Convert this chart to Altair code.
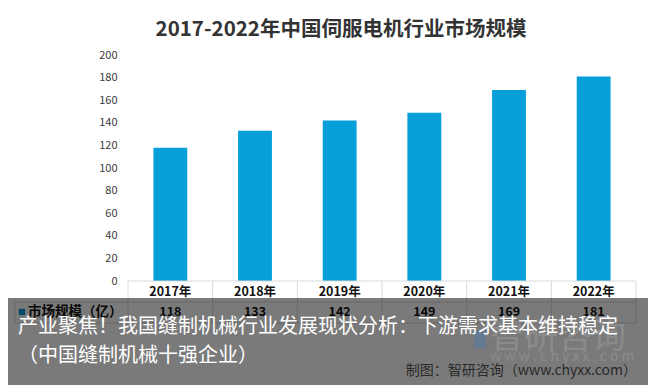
import altair as alt
import pandas as pd

years = ["2017年", "2018年", "2019年", "2020年", "2021年", "2022年"]
values = [118, 133, 142, 149, 169, 181]
title_text = "2017-2022年中国伺服电机行业市场规模"
series_name = "市场规模（亿）"
caption1 = "产业聚焦！我国缝制机械行业发展现状分析：下游需求基本维持稳定"
caption2 = "（中国缝制机械十强企业）"
source_text = "制图：智研咨询（www.chyxx.com）"
wm_text = "智研咨询"
wm_url = "w w w . c h y x x . c o m"

W, H = 508, 226
PL, PT = 120, 47
OX, OY = 8 + PL, 8 + PT  # page offset of plot origin
FONT = "Noto Sans CJK SC"
BLUE = "#079fd9"

df = pd.DataFrame({"year": years, "value": values})

xscale = alt.Scale(domain=years, paddingInner=0.6, paddingOuter=0.3)

bars = alt.Chart(df).mark_bar(color=BLUE).encode(
    x=alt.X("year:N", scale=xscale, axis=None, sort=years),
    y=alt.Y("value:Q", scale=alt.Scale(domain=[0, 200]),
            axis=alt.Axis(values=list(range(0, 201, 20)), domain=False, ticks=False,
                          grid=False, labelPadding=11, labelFontSize=11,
                          labelColor="#3a3a3a", labelFont=FONT, title=None)),
)

def py(page_y):
    return page_y - OY

def px(page_x):
    return page_x - OX

year_text = alt.Chart(df).mark_text(fontWeight="bold", fontSize=12.5, font=FONT,
                                    color="#111", baseline="middle").encode(
    x=alt.X("year:N", scale=xscale, axis=None, sort=years),
    y=alt.value(py(292)),
    text="year:N",
)
val_text = alt.Chart(df).mark_text(fontWeight="bold", fontSize=12.5, font=FONT,
                                   color="#111", baseline="middle").encode(
    x=alt.X("year:N", scale=xscale, axis=None, sort=years),
    y=alt.value(py(312)),
    text="value:Q",
)

# table grid
bounds = pd.DataFrame({"k": list(range(len(years) + 1))})
vlines = alt.Chart(bounds).mark_rule(color="#d9d9d9", strokeWidth=1).encode(
    x=alt.X("k:Q", scale=alt.Scale(domain=[0, len(years)]), axis=None),
    y=alt.value(py(281)),
    y2=alt.value(py(323)),
)
hl = pd.DataFrame({"y0": [py(281), py(302), py(323)], "x0": [0, px(15), px(15)]})
hlines = alt.Chart(hl).mark_rule(color="#d9d9d9", strokeWidth=1).encode(
    y=alt.Y("y0:Q", scale=None),
    x=alt.X("x0:Q", scale=None),
    x2=alt.value(W),
)
leftv = alt.Chart(pd.DataFrame({"a": [0]})).mark_rule(color="#d9d9d9").encode(
    x=alt.value(px(15)), y=alt.value(py(302)), y2=alt.value(py(323)))

legend_sq = alt.Chart(pd.DataFrame({"a": [0]})).mark_square(color=BLUE, size=40, opacity=1).encode(
    x=alt.value(px(22)), y=alt.value(py(312)))
legend_txt = alt.Chart(pd.DataFrame({"t": [series_name]})).mark_text(
    fontWeight="bold", fontSize=13.5, font=FONT, color="#111", align="left", baseline="middle").encode(
    x=alt.value(px(28)), y=alt.value(py(312)), text="t:N")

title = alt.Chart(pd.DataFrame({"t": [title_text]})).mark_text(
    fontWeight="bold", fontSize=20.5, font=FONT, color="#333", align="center", baseline="middle").encode(
    x=alt.value(px(341)), y=alt.value(py(30)), text="t:N")

overlay = alt.Chart(pd.DataFrame({"a": [0]})).mark_rect(color="#000", opacity=0.52).encode(
    x=alt.value(-OX), x2=alt.value(656 - OX), y=alt.value(py(298)), y2=alt.value(py(390)))

wm = alt.Chart(pd.DataFrame({"t": [wm_text]})).mark_text(
    fontSize=34, font=FONT, color="#ffffff", opacity=0.13, align="left", baseline="middle").encode(
    x=alt.value(px(490)), y=alt.value(py(338)), text="t:N")
wm_logo = alt.Chart(pd.DataFrame({"a": [0]})).mark_rect(color="#3a7bbf", opacity=0.35).encode(
    x=alt.value(px(474)), x2=alt.value(px(486)), y=alt.value(py(330)), y2=alt.value(py(348)))
wm2 = alt.Chart(pd.DataFrame({"t": [wm_url]})).mark_text(
    fontSize=14, font=FONT, color="#ffffff", opacity=0.13, align="left", baseline="middle").encode(
    x=alt.value(px(490)), y=alt.value(py(357)), text="t:N")

cap1 = alt.Chart(pd.DataFrame({"t": [caption1]})).mark_text(
    fontSize=20, font=FONT, color="#ffffff", align="left", baseline="middle").encode(
    x=alt.value(px(18)), y=alt.value(py(327)), text="t:N")
cap2 = alt.Chart(pd.DataFrame({"t": [caption2]})).mark_text(
    fontSize=20, font=FONT, color="#ffffff", align="left", baseline="middle").encode(
    x=alt.value(px(18)), y=alt.value(py(356)), text="t:N")
src = alt.Chart(pd.DataFrame({"t": [source_text]})).mark_text(
    fontSize=14, font=FONT, color="#2a2a2a", align="right", baseline="middle").encode(
    x=alt.value(px(637)), y=alt.value(py(371)), text="t:N")

chart = alt.layer(
    bars, hlines, vlines, leftv, year_text, val_text, legend_sq, legend_txt, title,
    overlay, wm_logo, wm, wm2, cap1, cap2, src,
).resolve_scale(x="independent").properties(
    width=W, height=H,
    autosize=alt.AutoSizeParams(type="none"),
    padding={"left": PL, "top": PT, "right": 12, "bottom": 104},
    background="white",
).configure_view(stroke=None)

chart.save("out.html", embed_options={"renderer": "svg", "actions": False})
